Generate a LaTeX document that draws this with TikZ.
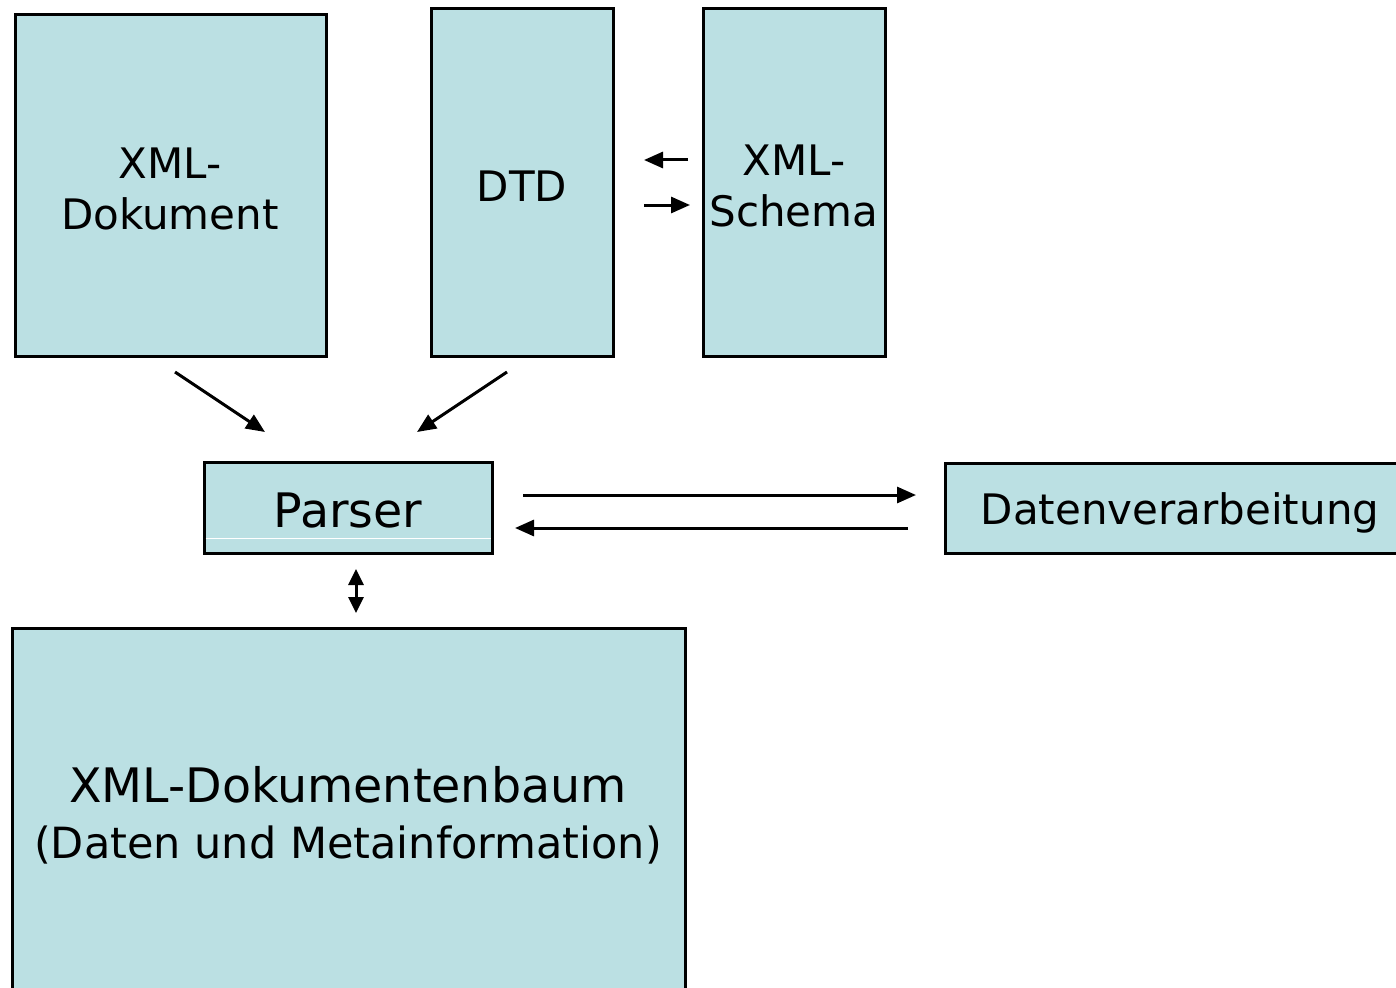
\documentclass[tikz,border=0pt]{standalone}
\usepackage{fontspec}
\setmainfont{DejaVu Sans}
\usetikzlibrary{arrows.meta}
\definecolor{boxfill}{RGB}{187,224,227}
\begin{document}
\begin{tikzpicture}[x=1pt,y=-1pt,
  box/.style={draw=black, line width=3pt, fill=boxfill, rectangle, inner sep=0pt},
  lbl/.style={align=center, inner sep=0pt, font=\fontsize{42}{51}\selectfont},
  conn/.style={line width=3pt, -{Triangle[length=19pt,width=16pt]}},
  dconn/.style={line width=3pt, {Triangle[length=16pt,width=15pt]}-{Triangle[length=16pt,width=15pt]}}]
\useasboundingbox (0,0) rectangle (1396,987);
\clip (0,0) rectangle (1396,987);
\node[box, minimum width=311pt, minimum height=341pt] (doc) at (170.5,185.5) {};
\node[lbl] (doct) at (170,189) {XML-\\Dokument};
\node[box, minimum width=182pt, minimum height=347pt] (dtd) at (522,182.5) {};
\node[lbl] (dtdt) at (522,186) {DTD};
\node[box, minimum width=182pt, minimum height=347pt] (schema) at (794,182.5) {};
\node[lbl] (schemat) at (794,186) {XML-\\Schema};
\node[box, minimum width=288pt, minimum height=91pt] (parser) at (348,507.5) {};
\draw[white, line width=1pt] ([xshift=3pt,yshift=16pt]parser.south west) -- ([xshift=-3pt,yshift=16pt]parser.south east);
\node[lbl, font=\fontsize{47.5}{59}\selectfont] (parsert) at (348,511) {Parser};
\node[box, minimum width=470pt, minimum height=90pt] (dv) at (1180,508) {};
\node[lbl] (dvt) at (1180,513) {Datenverarbeitung};
\node[box, minimum width=673pt, minimum height=372pt] (tree) at (348.5,814) {};
\node[lbl, font=\fontsize{47.5}{59}\selectfont] (treet1) at (348,785) {XML-Dokumentenbaum};
\node[lbl, font=\fontsize{43}{59}\selectfont] (treet2) at (348,845) {(Daten und Metainformation)};
\coordinate (a1s) at (688,160); \coordinate (a1e) at (644,160);
\coordinate (a2s) at (644,205); \coordinate (a2e) at (690,205);
\coordinate (a3s) at (175,372); \coordinate (a3e) at (265,432);
\coordinate (a4s) at (507,372); \coordinate (a4e) at (417,432);
\coordinate (a5s) at (523,495); \coordinate (a5e) at (916,495);
\coordinate (a6s) at (908,528); \coordinate (a6e) at (515,528);
\coordinate (a7s) at (356,569); \coordinate (a7e) at (356,613);
\draw[conn] (a1s) -- (a1e);
\draw[conn] (a2s) -- (a2e);
\draw[conn] (a3s) -- (a3e);
\draw[conn] (a4s) -- (a4e);
\draw[conn] (a5s) -- (a5e);
\draw[conn] (a6s) -- (a6e);
\draw[dconn] (a7s) -- (a7e);
\end{tikzpicture}
\end{document}
